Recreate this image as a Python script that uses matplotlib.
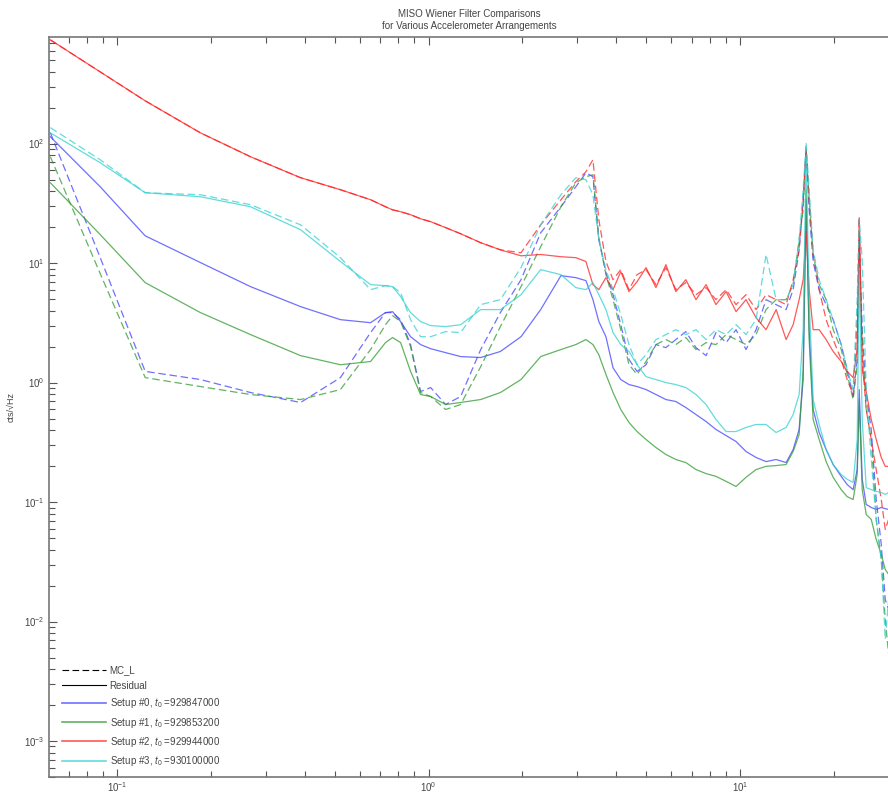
import numpy as np
import matplotlib
matplotlib.use("Agg")
import matplotlib.pyplot as plt
from matplotlib.lines import Line2D
from matplotlib.ticker import LogLocator, NullFormatter

plt.rcParams['font.family'] = ['Liberation Sans', 'DejaVu Sans']
plt.rcParams['mathtext.fontset'] = 'custom'
plt.rcParams['mathtext.rm'] = 'Liberation Sans'
plt.rcParams['mathtext.it'] = 'Liberation Sans:italic'

# frequency grid (Hz)
freq = [0.061, 0.0882, 0.123, 0.185, 0.268, 0.388, 0.521, 0.651, 0.727, 0.766,
        0.813, 0.875, 0.942, 1.015, 1.134, 1.267, 1.47, 1.70, 1.98, 2.29,
        2.66, 2.97, 3.20, 3.37, 3.52, 3.71, 3.91, 4.14, 4.40, 4.67,
        4.99, 5.37, 5.78, 6.22, 6.70, 7.22, 7.78, 8.37, 9.02, 9.71,
        10.45, 11.26, 12.12, 13.06, 14.06, 14.81, 15.48, 15.95, 16.30, 16.67,
        17.17, 17.95, 18.90, 19.91, 21.13, 22.08, 23.08, 23.78, 24.14, 24.68,
        25.42, 26.38, 27.37, 28.41, 29.26, 30.0]

# setup #0 (blue)
mc0 = [123, 11.1, 1.24, 1.06, 0.825, 0.681, 1.10, 2.62, 3.85, 3.85,
       3.36, 2.08, 0.841, 0.908, 0.655, 0.764, 1.89, 3.85, 7.26, 17.9,
       29.6, 43.5, 57.0, 52.8, 15.7, 8.31, 5.44, 3.05, 1.56, 1.24,
       1.41, 2.08, 1.96, 2.29, 2.67, 1.96, 1.68, 2.62, 2.16, 2.77,
       1.89, 2.77, 4.94, 4.49, 4.08, 5.99, 12.9, 33.9, 92.2, 27.9,
       10.3, 5.99, 4.49, 3.36, 2.08, 1.28, 0.764, 1.56, 15.7, 2.77,
       0.794, 0.405, 0.105, 0.0442, 0.0153, 0.0126]
res0 = [114, 43.5, 16.9, 10.1, 6.35, 4.32, 3.36, 3.17, 3.85, 3.92,
        3.24, 2.42, 2.08, 1.92, 1.78, 1.65, 1.62, 1.82, 2.42, 4.08,
        7.85, 7.55, 7.13, 4.94, 3.24, 2.42, 1.33, 1.06, 0.962, 0.926,
        0.874, 0.794, 0.721, 0.694, 0.618, 0.540, 0.472, 0.405, 0.360, 0.321,
        0.265, 0.236, 0.218, 0.227, 0.214, 0.275, 0.405, 1.06, 33.9, 2.77,
        0.595, 0.382, 0.275, 0.206, 0.164, 0.140, 0.127, 0.187, 0.874, 0.155,
        0.0955, 0.0901, 0.0867, 0.0901, 0.088, 0.0867]

# setup #1 (green)
mc1 = [77.6, 8.15, 1.10, 0.926, 0.794, 0.721, 0.874, 1.89, 3.05, 3.63,
       3.24, 2.00, 0.825, 0.764, 0.595, 0.655, 1.36, 2.94, 6.35, 13.7,
       29.6, 47.0, 52.8, 54.8, 16.3, 8.00, 4.94, 2.77, 1.41, 1.17,
       1.50, 2.08, 2.29, 2.08, 2.38, 1.89, 2.16, 2.08, 2.52, 2.29,
       2.08, 2.52, 4.08, 4.94, 4.94, 6.60, 15.7, 27.9, 88.8, 33.9,
       11.8, 6.60, 4.94, 2.77, 1.89, 1.17, 0.721, 1.41, 12.9, 2.29,
       0.595, 0.334, 0.0716, 0.0331, 0.0104, 0.00532]
res1 = [47.0, 17.3, 6.86, 3.85, 2.52, 1.68, 1.41, 1.50, 2.16, 2.38,
        2.16, 1.24, 0.794, 0.764, 0.655, 0.681, 0.721, 0.825, 1.06, 1.65,
        1.89, 2.08, 2.29, 2.08, 1.71, 1.17, 0.825, 0.595, 0.463, 0.389,
        0.334, 0.286, 0.250, 0.227, 0.214, 0.187, 0.173, 0.164, 0.149, 0.135,
        0.161, 0.187, 0.199, 0.202, 0.206, 0.265, 0.367, 1.28, 41.1, 2.29,
        0.491, 0.334, 0.218, 0.161, 0.127, 0.111, 0.105, 0.170, 0.721, 0.127,
        0.0787, 0.0716, 0.0487, 0.0365, 0.0273, 0.0248]

# setup #2 (red)
mc2 = [738, 398, 228, 123, 77.6, 51.8, 41.1, 33.9, 29.6, 27.9,
       26.9, 25.4, 23.5, 22.2, 19.8, 17.6, 14.8, 12.9, 12.2, 20.9,
       33.9, 48.0, 58.1, 73.2, 23.1, 10.3, 7.26, 8.81, 5.99, 8.00,
       8.81, 6.60, 9.16, 5.99, 6.86, 5.44, 6.23, 4.94, 5.99, 4.49,
       5.44, 4.08, 5.44, 4.94, 4.49, 7.26, 12.9, 33.9, 88.8, 33.9,
       11.8, 5.99, 3.36, 2.29, 1.56, 1.06, 0.794, 3.36, 24.0, 1.56,
       0.595, 0.334, 0.187, 0.105, 0.0590, 0.0716]
res2 = [738, 398, 228, 123, 77.6, 51.8, 41.1, 33.9, 29.6, 27.9,
        26.9, 25.4, 23.5, 22.2, 19.8, 17.6, 14.8, 12.9, 11.5, 11.8,
        11.3, 11.1, 10.3, 6.60, 5.99, 7.55, 5.99, 8.47, 5.77, 6.99,
        9.16, 6.23, 9.70, 5.77, 7.26, 4.94, 6.60, 4.49, 5.77, 3.92,
        4.94, 3.49, 2.77, 4.08, 2.29, 3.05, 4.94, 7.26, 18.3, 5.99,
        2.77, 2.77, 2.29, 1.82, 1.50, 1.24, 1.10, 1.89, 24.0, 1.28,
        0.841, 0.491, 0.334, 0.236, 0.199, 0.199]

# setup #3 (cyan)
mc3 = [136, 73.2, 38.8, 37.3, 30.8, 20.9, 11.1, 5.99, 6.47, 6.35,
       5.66, 3.36, 2.42, 2.42, 2.67, 2.62, 4.49, 4.94, 9.16, 20.9,
       37.3, 51.8, 49.8, 37.3, 15.7, 8.81, 5.99, 3.70, 2.08, 1.41,
       1.71, 2.29, 2.52, 2.77, 2.52, 2.77, 2.29, 2.77, 2.52, 3.05,
       2.52, 3.36, 11.8, 4.94, 4.94, 6.60, 15.7, 41.1, 102, 41.1,
       12.9, 7.26, 4.94, 3.36, 2.08, 1.28, 0.874, 4.94, 23.1, 10.7,
       0.874, 0.227, 0.0716, 0.0331, 0.0071, 0.0153]
res3 = [123, 69.1, 38.8, 35.9, 29.6, 19.0, 10.3, 6.60, 6.47, 6.35,
        5.24, 3.85, 3.24, 3.00, 2.94, 3.05, 4.08, 4.08, 5.44, 8.81,
        8.00, 6.23, 5.99, 6.86, 5.44, 4.08, 2.62, 2.08, 1.82, 1.41,
        1.12, 1.06, 1.00, 0.962, 0.908, 0.794, 0.655, 0.491, 0.389, 0.389,
        0.421, 0.446, 0.446, 0.382, 0.421, 0.540, 0.794, 2.77, 80.6, 4.94,
        0.721, 0.446, 0.275, 0.206, 0.170, 0.155, 0.146, 0.334, 8.81, 0.491,
        0.132, 0.127, 0.123, 0.120, 0.116, 0.120]

setup_labels = ['Setup #0, $t_0$ =929847000', 'Setup #1, $t_0$ =929853200',
                'Setup #2, $t_0$ =929944000', 'Setup #3, $t_0$ =930100000']
colors = ['#4040ff', '#2e9a2e', '#ff2020', '#30d0d0']

mcs = [mc0, mc1, mc2, mc3]
resids = [res0, res1, res2, res3]

fig = plt.figure(figsize=(8.88, 7.97), dpi=100)
ax = fig.add_axes([0.0552, 0.0251, 0.9460, 0.9285])

for mc, res, c in zip(mcs, resids, colors):
    ax.loglog(freq, mc, color=c, lw=0.9, alpha=0.75, linestyle=(0, (6, 3)))
    ax.loglog(freq, res, color=c, lw=0.9, alpha=0.75)

ax.set_xlim(0.0604, 30.1)
ax.set_ylim(5.0e-4, 780)

ax.set_title('MISO Wiener Filter Comparisons\nfor Various Accelerometer Arrangements',
             fontsize=7, pad=6, color='#444444')
ax.set_ylabel('cts/\u221aHz', fontsize=6.5, color='#444444')
ax.yaxis.set_label_coords(-0.04, 0.5)

ax.xaxis.set_major_locator(LogLocator(base=10))
ax.xaxis.set_minor_locator(LogLocator(base=10, subs=np.arange(2, 10)))
ax.yaxis.set_major_locator(LogLocator(base=10))
ax.yaxis.set_minor_locator(LogLocator(base=10, subs=np.arange(2, 10)))
ax.xaxis.set_minor_formatter(NullFormatter())
ax.yaxis.set_minor_formatter(NullFormatter())

ax.tick_params(which='both', direction='in', top=True, right=False,
               colors='#555555', labelcolor='#444444', labelsize=7)
ax.tick_params(axis='x', which='major', pad=2)
ax.tick_params(which='major', length=6, width=0.8)
ax.tick_params(which='minor', length=4, width=0.8)
for side in ['left', 'bottom', 'top']:
    ax.spines[side].set_color('#777777')
    ax.spines[side].set_linewidth(1.2)
ax.spines['right'].set_visible(False)

handles = [Line2D([], [], color='black', lw=0.8, linestyle=(0, (6, 3))),
           Line2D([], [], color='black', lw=0.8)]
handles += [Line2D([], [], color=c, lw=1.2, alpha=0.75) for c in colors]
labels = ['MC_L', 'Residual'] + setup_labels
ax.legend(handles, labels, loc='lower left', bbox_to_anchor=(0.005, 0.0),
          frameon=False, fontsize=7, handlelength=4.5, handletextpad=0.4,
          labelspacing=0.55, labelcolor='#444444')

fig.savefig('out.png', dpi=100)
